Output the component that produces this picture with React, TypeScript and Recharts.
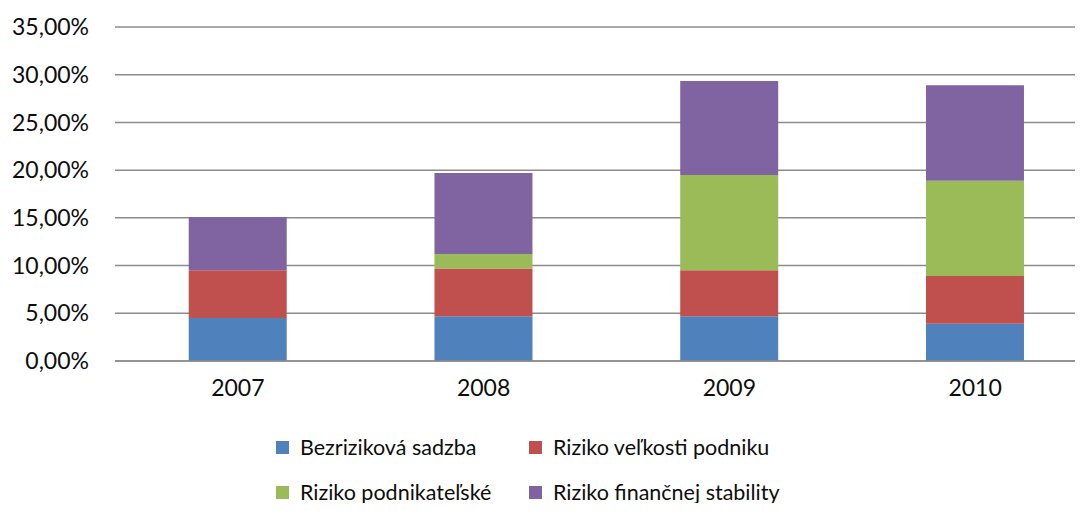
import { BarChart, Bar, XAxis, YAxis, CartesianGrid } from "recharts";

const FONT = "Lato, 'Open Sans', sans-serif";
const GRID = "#8c8c8c";
const TEXT = "#0d0d0d";

const years = ["2007", "2008", "2009", "2010"];
const bezrizikova = [4.5, 4.7, 4.7, 3.9];
const velkost = [5.0, 5.0, 4.8, 5.0];
const podnikatelske = [0, 1.5, 10.0, 10.0];
const financna = [5.58, 8.5, 9.85, 10.0];
const yTicks = [0, 5, 10, 15, 20, 25, 30, 35];

const series = [
  { key: "bez", name: "Bezriziková sadzba", color: "#4F81BD" },
  { key: "vel", name: "Riziko veľkosti podniku", color: "#C0504D" },
  { key: "pod", name: "Riziko podnikateľské", color: "#9BBB59" },
  { key: "fin", name: "Riziko finančnej stability", color: "#8064A2" },
];

const data = years.map((y, i) => ({
  year: y,
  bez: bezrizikova[i],
  vel: velkost[i],
  pod: podnikatelske[i],
  fin: financna[i],
}));

const fmtPct = (v: number) => v.toFixed(2).replace(".", ",") + "%";

function LegendItem({ name, color }: { name: string; color: string }) {
  return (
    <span style={{ display: "flex", alignItems: "center", gap: 11 }}>
      <span style={{ display: "inline-block", width: 13, height: 13, backgroundColor: color }} />
      {name}
    </span>
  );
}

export default function App() {
  return (
    <div
      style={{
        position: "relative",
        width: 1083,
        height: 511,
        margin: -8,
        overflow: "hidden",
        background: "#fff",
        fontFamily: FONT,
      }}
    >
      <BarChart
        width={1100}
        height={420}
        data={data}
        margin={{ top: 27, right: 2, left: 0, bottom: 19 }}
        barCategoryGap="30%"
      >
        <CartesianGrid vertical={false} stroke={GRID} strokeWidth={1.5} />
        <XAxis
          dataKey="year"
          height={40}
          tickLine={false}
          axisLine={{ stroke: GRID, strokeWidth: 1.5 }}
          tickMargin={13}
          tick={{ fill: TEXT, fontSize: 23, fontFamily: FONT }}
        />
        <YAxis
          width={115}
          domain={[0, 35]}
          ticks={yTicks}
          tickLine={false}
          axisLine={false}
          tickMargin={20}
          tickFormatter={fmtPct}
          tick={{ fill: TEXT, fontSize: 23, fontFamily: FONT }}
        />
        {series.map((s) => (
          <Bar
            key={s.key}
            dataKey={s.key}
            name={s.name}
            stackId="a"
            fill={s.color}
            isAnimationActive={false}
          />
        ))}
      </BarChart>

      <div
        style={{
          position: "absolute",
          left: 276,
          top: 434,
          display: "grid",
          gridTemplateColumns: "253px auto",
          rowGap: 19,
          fontSize: 21.5,
          color: TEXT,
          lineHeight: "26px",
        }}
      >
        {series.map((s) => (
          <LegendItem key={s.key} name={s.name} color={s.color} />
        ))}
      </div>
    </div>
  );
}
